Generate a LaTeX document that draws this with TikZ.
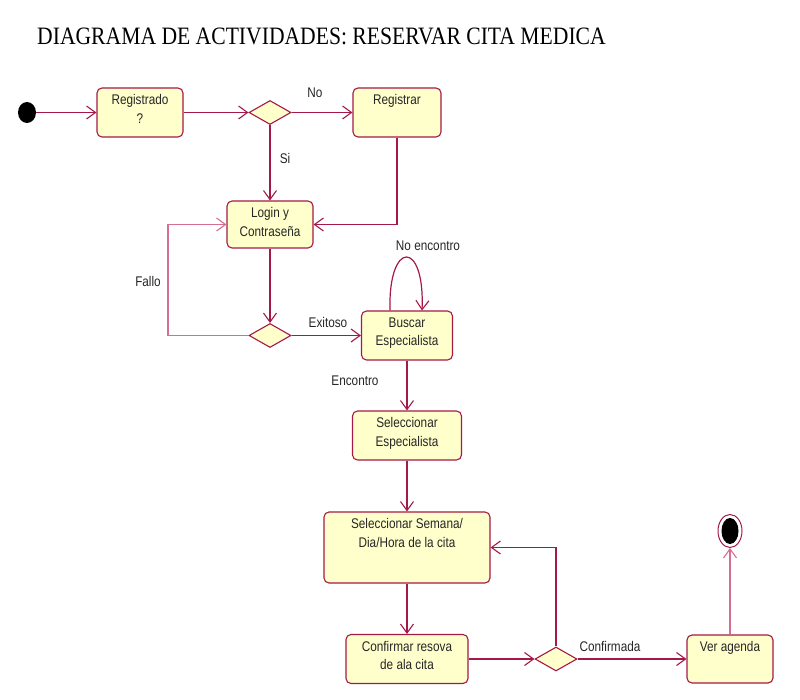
\documentclass[tikz,border=0pt]{standalone}
\usepackage{fontspec}
\setmainfont{Liberation Sans}
\newfontfamily\dfont[FakeStretch=0.84]{Liberation Sans}
\newfontfamily\tfont[FakeStretch=0.865]{Liberation Serif}
\usetikzlibrary{arrows.meta,shapes.geometric}
\definecolor{edgec}{RGB}{165,25,70}
\definecolor{lightc}{RGB}{215,110,145}
\definecolor{fillc}{RGB}{255,255,204}
\begin{document}
\begin{tikzpicture}[x=1pt,y=-1pt,
  act/.style={draw=edgec, fill=fillc, rounded corners=5pt, line width=1.1pt, inner sep=0},
  txt/.style={font=\dfont\fontsize{14}{18.5}\selectfont, align=center, inner sep=0, anchor=north, text=black!85},
  lbl/.style={font=\dfont\fontsize{14}{17}\selectfont, inner sep=0, text=black!85},
  dec/.style={diamond, draw=edgec, fill=fillc, line width=1.1pt, minimum width=42pt, minimum height=24pt, inner sep=0, aspect=1.75},
  flow/.style={draw=edgec, line width=1.2pt, -{Straight Barb[length=9pt,width=13pt,line width=1.1pt]}},
]
\path[fill=white, use as bounding box] (0,0) rectangle (800,700);

\node[font=\tfont\fontsize{25}{29}\selectfont, anchor=base west, inner sep=0] (title) at (37,45) {DIAGRAMA DE ACTIVIDADES: RESERVAR CITA MEDICA};

% activities
\node[act, minimum width=86, minimum height=49] (reg) at (140,112.5) {};
\node[act, minimum width=88, minimum height=49] (regr) at (397,112.5) {};
\node[act, minimum width=86, minimum height=47] (login) at (270,224.5) {};
\node[act, minimum width=91, minimum height=49] (busc) at (407,335.5) {};
\node[act, minimum width=109, minimum height=49] (selesp) at (407,435.5) {};
\node[act, minimum width=166, minimum height=71] (selsem) at (407,547.5) {};
\node[act, minimum width=122, minimum height=49] (conf) at (407,659) {};
\node[act, minimum width=86, minimum height=48] (ver) at (730,659) {};

\node[txt] (treg) at ([yshift=-7pt]reg.north) {Registrado\\?};
\node[txt] (tregr) at ([yshift=-7pt]regr.north) {Registrar};
\node[txt] (tlogin) at ([yshift=-7pt]login.north) {Login y\\Contraseña};
\node[txt] (tbusc) at ([yshift=-7pt]busc.north) {Buscar\\Especialista};
\node[txt] (tselesp) at ([yshift=-7pt]selesp.north) {Seleccionar\\Especialista};
\node[txt] (tselsem) at ([yshift=-7pt]selsem.north) {Seleccionar Semana/\\Dia/Hora de la cita};
\node[txt] (tconf) at ([yshift=-7pt]conf.north) {Confirmar resova\\de ala cita};
\node[txt] (tver) at ([yshift=-7pt]ver.north) {Ver agenda};

% decisions
\node[dec] (d1) at (270,112.5) {};
\node[dec] (d2) at (270,335.5) {};
\node[dec] (d3) at (556,659) {};

% start / end
\node[ellipse, fill=black, minimum width=18, minimum height=21, inner sep=0] (init) at (27,112.5) {};
\node[ellipse, draw=edgec, fill=white, line width=1pt, minimum width=24, minimum height=33, inner sep=0] (fin) at (730,531) {};
\node[ellipse, fill=black, minimum width=17, minimum height=26, inner sep=0] (fincore) at (fin.center) {};

% labels
\node[lbl] (lno) at (315,93) {No};
\node[lbl] (lsi) at (285,158) {Si};
\node[lbl] (lfallo) at (148,281) {Fallo};
\node[lbl] (lexit) at (328,322) {Exitoso};
\node[lbl] (lnoenc) at (428,246) {No encontro};
\node[lbl] (lenc) at (355,381) {Encontro};
\node[lbl] (lconf) at (610,646) {Confirmada};

% flows
\draw[flow] (init) -- (reg);
\draw[flow] (reg) -- (d1);
\draw[flow] (d1) -- (regr);
\draw[flow] (d1) -- (login);
\draw[flow] (regr.south) |- (login.east);
\draw[flow] (login) -- (d2);
\coordinate (fk) at (168,335.5);
\draw[flow, draw=lightc] (d2.west) -- (fk) |- (login.west);
\draw[flow] (d2) -- (busc);
\draw[flow] ([xshift=-17pt]busc.north) .. controls +(-2,-71) and +(3,-71) .. ([xshift=15pt]busc.north);
\draw[flow] (busc) -- (selesp);
\draw[flow] (selesp) -- (selsem);
\draw[flow] (selsem) -- (conf);
\draw[flow] (conf) -- (d3);
\draw[flow] (d3.north) |- (selsem.east);
\draw[flow] (d3) -- (ver);
\draw[flow, draw=lightc] (ver) -- (fin);
\end{tikzpicture}
\end{document}
